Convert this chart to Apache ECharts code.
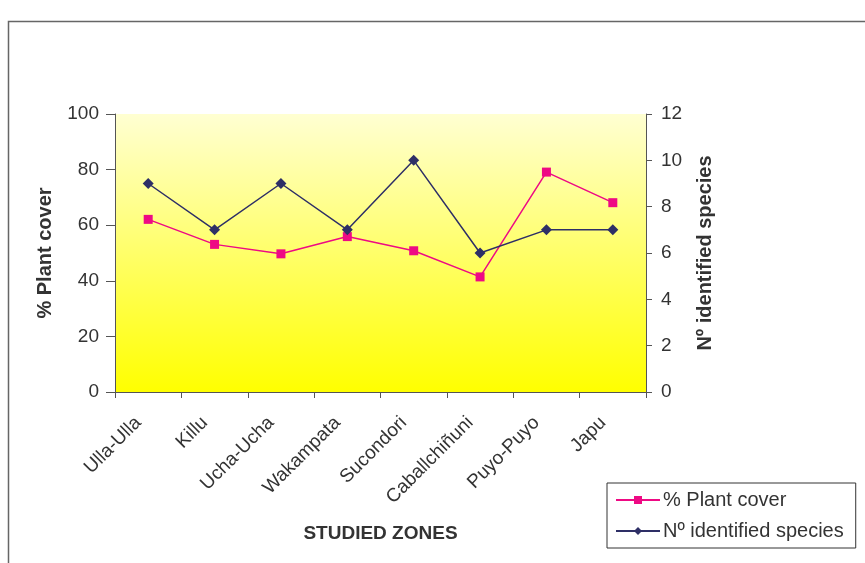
<!DOCTYPE html>
<html><head><meta charset="utf-8">
<script src="https://cdn.jsdelivr.net/npm/echarts@6/dist/echarts.min.js"></script>
<style>html,body{margin:0;padding:0;background:#fff}#c{width:865px;height:563px}</style>
</head><body><div id="c"></div>
<script>
var categories = ['Ulla-Ulla','Killu','Ucha-Ucha','Wakampata','Sucondori','Caballchiñuni','Puyo-Puyo','Japu'];
var plantCover = [62.1, 53.1, 49.7, 55.9, 50.8, 41.4, 79.1, 68.1];
var species = [9, 7, 9, 7, 10, 6, 7, 7];
var leftTicks = {min:0, max:100, interval:20};
var rightTicks = {min:0, max:12, interval:2};

var chart = echarts.init(document.getElementById('c'), null, {renderer:'canvas'});
var font = 'Liberation Sans, Arial, sans-serif';
var axisCol = '#555555';
var txtCol = '#333333';
chart.setOption({
  animation:false,
  backgroundColor:'#ffffff',
  textStyle:{fontFamily:font},
  graphic:[{type:'rect', shape:{x:8.5,y:21.5,width:900,height:600}, style:{fill:'none', stroke:'#666', lineWidth:1.5}, z:-10}],
  grid:{left:115, right:219, top:114, bottom:171, show:true, borderWidth:0,
    backgroundColor:new echarts.graphic.LinearGradient(0,0,0,1,[{offset:0,color:'#FFFFD2'},{offset:1,color:'#FFFF00'}])},
  legend:{orient:'vertical', left:607, top:483, width:250, height:66,
    backgroundColor:'#fff', borderColor:'#333', borderWidth:1, padding:[7,12,7,8], itemGap:11,
    itemWidth:44, itemHeight:10, align:'left',
    textStyle:{fontSize:20, color:txtCol, fontFamily:font, padding:[0,0,0,-2]},
    data:['% Plant cover','Nº identified species']},
  xAxis:{type:'category', data:categories, boundaryGap:true,
    name:'STUDIED ZONES', nameLocation:'middle', nameGap:132,
    nameTextStyle:{fontSize:19, fontWeight:'bold', color:txtCol, fontFamily:font},
    axisLine:{lineStyle:{color:axisCol, width:1}},
    axisTick:{show:true, length:6, lineStyle:{color:axisCol}},
    axisLabel:{rotate:45, fontSize:19, color:txtCol, margin:18, interval:0, fontFamily:font, padding:[0,14,0,0]}},
  yAxis:[
    {type:'value', min:leftTicks.min, max:leftTicks.max, interval:leftTicks.interval, position:'left',
     name:'% Plant cover', nameLocation:'middle', nameGap:60, nameRotate:90,
     nameTextStyle:{fontSize:20, fontWeight:'bold', color:txtCol, fontFamily:font},
     axisLine:{show:true, lineStyle:{color:axisCol}},
     axisTick:{show:true, length:9, lineStyle:{color:axisCol}},
     axisLabel:{fontSize:19, color:txtCol, margin:16, fontFamily:font},
     splitLine:{show:false}},
    {type:'value', min:rightTicks.min, max:rightTicks.max, interval:rightTicks.interval, position:'right',
     name:'Nº identified species', nameLocation:'middle', nameGap:49, nameRotate:90,
     nameTextStyle:{fontSize:20, fontWeight:'bold', color:txtCol, fontFamily:font},
     axisLine:{show:true, lineStyle:{color:axisCol}},
     axisTick:{show:true, length:6, lineStyle:{color:axisCol}},
     axisLabel:{fontSize:19, color:txtCol, margin:15, fontFamily:font},
     splitLine:{show:false}}
  ],
  series:[
    {name:'% Plant cover', type:'line', yAxisIndex:0, data:plantCover,
     symbol:'rect', symbolSize:9, itemStyle:{color:'#EE0A84'}, lineStyle:{color:'#EE0A84', width:1.5}},
    {name:'Nº identified species', type:'line', yAxisIndex:1, data:species,
     symbol:'diamond', symbolSize:11, itemStyle:{color:'#2E2F66'}, lineStyle:{color:'#2E2F66', width:1.5}}
  ]
});
</script></body></html>
